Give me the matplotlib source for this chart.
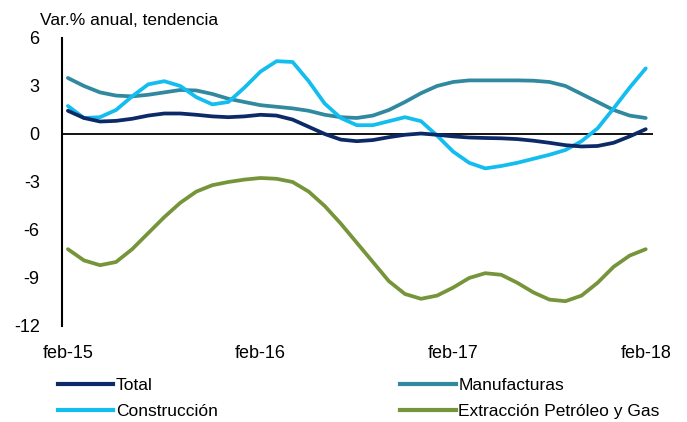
import numpy as np
import matplotlib.pyplot as plt
from matplotlib.lines import Line2D

plt.rcParams['font.family'] = ['Liberation Sans Narrow', 'Liberation Sans', 'DejaVu Sans']
plt.rcParams['axes.unicode_minus'] = False

# meses feb-15 .. feb-18 (37 observaciones mensuales)
meses = np.arange(37)
etiquetas_x = ["feb-15", "feb-16", "feb-17", "feb-18"]
pos_x = [0, 12, 24, 36]

total = [1.45, 1.0, 0.78, 0.82, 0.95, 1.15, 1.28, 1.28, 1.2, 1.1,
         1.05, 1.1, 1.2, 1.15, 0.9, 0.45, 0.0, -0.35, -0.45, -0.38,
         -0.2, -0.05, 0.03, -0.05, -0.15, -0.22, -0.25, -0.27, -0.32, -0.42,
         -0.55, -0.7, -0.78, -0.75, -0.55, -0.15, 0.3]

manufacturas = [3.5, 3.0, 2.6, 2.4, 2.35, 2.45, 2.6, 2.75, 2.72, 2.5,
                2.2, 2.0, 1.8, 1.7, 1.6, 1.45, 1.2, 1.05, 1.0, 1.15,
                1.5, 2.0, 2.55, 3.0, 3.25, 3.35, 3.35, 3.35, 3.35, 3.33,
                3.25, 3.0, 2.5, 2.0, 1.5, 1.15, 1.0]

construccion = [1.75, 1.0, 1.05, 1.5, 2.35, 3.1, 3.3, 3.0, 2.3, 1.85,
                2.0, 2.9, 3.9, 4.55, 4.5, 3.3, 1.9, 1.0, 0.55, 0.55,
                0.8, 1.05, 0.8, -0.1, -1.1, -1.8, -2.15, -2.0, -1.8, -1.55,
                -1.3, -1.0, -0.45, 0.35, 1.6, 2.9, 4.1]

petroleo = [-7.2, -7.9, -8.2, -8.0, -7.2, -6.2, -5.2, -4.3, -3.6, -3.2,
            -3.0, -2.85, -2.75, -2.8, -3.0, -3.6, -4.5, -5.6, -6.8, -8.0,
            -9.2, -10.0, -10.3, -10.1, -9.6, -9.0, -8.7, -8.8, -9.3, -9.9,
            -10.35, -10.45, -10.1, -9.3, -8.3, -7.6, -7.2]

nombres = ["Total", "Manufacturas", "Construcción", "Extracción Petróleo y Gas"]
colores = ["#0c2a68", "#31899f", "#13bdf0", "#76943a"]
series = [total, manufacturas, construccion, petroleo]

fig = plt.figure(figsize=(6.87, 4.22), dpi=100)
ax = fig.add_axes([0.0902, 0.2275, 0.860, 0.6825])

# orden de dibujo como en el original
for idx in [3, 1, 2, 0]:
    ax.plot(meses, series[idx], color=colores[idx], lw=2.7,
            solid_capstyle='round', solid_joinstyle='round')

ax.axhline(0, color='black', lw=1.3, zorder=1)

ax.set_xlim(-0.37, 36.44)
ax.set_ylim(-12, 6)
ax.set_yticks([6, 3, 0, -3, -6, -9, -12])
ax.set_xticks(pos_x)
ax.set_xticklabels(etiquetas_x)
ax.tick_params(axis='both', length=0, labelsize=13)
ax.tick_params(axis='y', pad=16)
ax.tick_params(axis='x', pad=14)

for s in ['top', 'right', 'bottom']:
    ax.spines[s].set_visible(False)
ax.spines['left'].set_linewidth(1.5)

fig.text(0.058, 0.952, "Var.% anual, tendencia", fontsize=12.5, va='center', ha='left')

handles = [Line2D([], [], color=colores[i], lw=3) for i in [0, 2, 1, 3]]
labels = [nombres[i] for i in [0, 2, 1, 3]]
fig.legend(handles, labels, ncol=2, loc='upper left', bbox_to_anchor=(0.084, 0.104),
           frameon=False, fontsize=12.5, handlelength=3.2, handletextpad=0.15,
           columnspacing=10.5, labelspacing=0.6, borderaxespad=0, borderpad=0)

fig.savefig("out.png", dpi=100)
